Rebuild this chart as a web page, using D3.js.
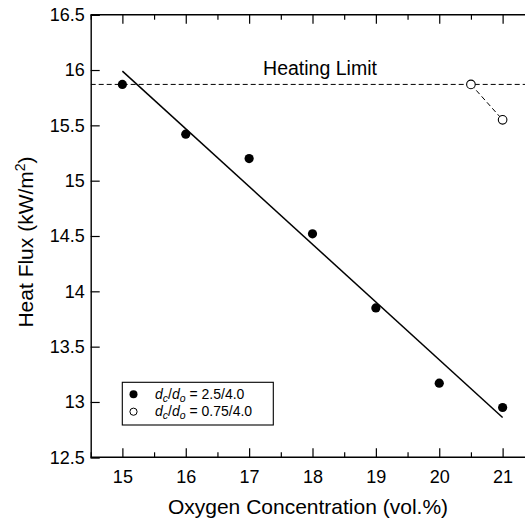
<!DOCTYPE html>
<html><head><meta charset="utf-8">
<script src="https://cdn.jsdelivr.net/npm/d3@7"></script>
<style>
html,body{margin:0;padding:0;background:#fff;}
svg{display:block;font-family:"Liberation Sans",Arial,sans-serif;}
</style></head>
<body>
<svg id="chart" width="525" height="523"></svg>
<script>
// Data
const oxygenFilled = [15, 16, 17, 18, 19, 20, 21];
const fluxFilled = [15.87, 15.42, 15.20, 14.52, 13.85, 13.17, 12.95];
const oxygenOpen = [20.5, 21];
const fluxOpen = [15.87, 15.55];
const fitX = [15, 21];
const fitY = [15.99, 12.86];
const heatingLimit = 15.87;
const xTicks = [15, 16, 17, 18, 19, 20, 21];
const yTicks = [12.5, 13, 13.5, 14, 14.5, 15, 15.5, 16, 16.5];
const yTickLabels = ["12.5", "13", "13.5", "14", "14.5", "15", "15.5", "16", "16.5"];

const svg = d3.select("#chart");
const W = 525, H = 523;
const L = 90.7, T = 14.7, B = 457.3;
const x = d3.scaleLinear().domain([14.5, 21.5]).range([L, 534.3]);
const y = d3.scaleLinear().domain([12.5, 16.5]).range([B, T]);

svg.append("defs").append("clipPath").attr("id", "clip")
  .append("rect").attr("x", L).attr("y", T).attr("width", W - L).attr("height", B - T);

const minorX = d3.range(14.5, 21.51, 0.5).filter(v => !xTicks.includes(v));

// Bottom axis
const gB = svg.append("g").attr("transform", `translate(0,${B})`);
gB.call(d3.axisBottom(x).tickValues(xTicks).tickSize(-9).tickPadding(13).tickFormat(d3.format("d")));
gB.append("g").call(d3.axisBottom(x).tickValues(minorX).tickSize(-5).tickFormat(""))
  .select(".domain").remove();
// Top axis
const gT = svg.append("g").attr("transform", `translate(0,${T})`);
gT.call(d3.axisTop(x).tickValues(xTicks).tickSize(-9).tickFormat(""));
gT.append("g").call(d3.axisTop(x).tickValues(minorX).tickSize(-5).tickFormat(""))
  .select(".domain").remove();
// Left axis
const gL = svg.append("g").attr("transform", `translate(${L},0)`);
gL.call(d3.axisLeft(y).tickValues(yTicks).tickSize(-9).tickPadding(6)
  .tickFormat((d, i) => yTickLabels[i]));

svg.selectAll(".domain").attr("stroke", "#000").attr("stroke-width", 1.4);
svg.selectAll(".tick line").attr("stroke", "#000").attr("stroke-width", 1.2);
svg.selectAll(".tick text").attr("fill", "#000").attr("font-size", 18)
  .attr("font-family", "'Liberation Sans', Arial, sans-serif");
gT.selectAll(".domain").attr("d", `M${L},0H${W}`);
gB.selectAll(".domain").attr("d", `M${L},0H${W}`);

const plot = svg.append("g").attr("clip-path", "url(#clip)");

// Heating limit
plot.append("line")
  .attr("x1", L).attr("x2", W)
  .attr("y1", y(heatingLimit)).attr("y2", y(heatingLimit))
  .attr("stroke", "#000").attr("stroke-width", 1).attr("stroke-dasharray", "5,3");
svg.append("text").attr("x", 320).attr("y", 75.3).attr("text-anchor", "middle")
  .attr("font-size", 19.5).text("Heating Limit");

// Fit line
plot.append("line")
  .attr("x1", x(fitX[0])).attr("y1", y(fitY[0]))
  .attr("x2", x(fitX[1])).attr("y2", y(fitY[1]))
  .attr("stroke", "#000").attr("stroke-width", 1.5);

// Open series connector
plot.append("path")
  .datum(oxygenOpen.map((o, i) => [o, fluxOpen[i]]))
  .attr("d", d3.line().x(d => x(d[0])).y(d => y(d[1])))
  .attr("fill", "none").attr("stroke", "#000").attr("stroke-width", 1).attr("stroke-dasharray", "5,3");

// Filled points
plot.selectAll(".pf").data(oxygenFilled).join("circle")
  .attr("cx", d => x(d)).attr("cy", (d, i) => y(fluxFilled[i])).attr("r", 4.6)
  .attr("fill", "#000");
// Open points
plot.selectAll(".po").data(oxygenOpen).join("circle")
  .attr("cx", d => x(d)).attr("cy", (d, i) => y(fluxOpen[i])).attr("r", 4.3)
  .attr("fill", "#fff").attr("stroke", "#000").attr("stroke-width", 1.1);

// Legend
const lg = svg.append("g");
lg.append("rect").attr("x", 122.3).attr("y", 382.3).attr("width", 151).attr("height", 42.7)
  .attr("fill", "#fff").attr("stroke", "#000").attr("stroke-width", 1.1);
lg.append("circle").attr("cx", 133.5).attr("cy", 394.3).attr("r", 4).attr("fill", "#000");
lg.append("circle").attr("cx", 133.5).attr("cy", 411.7).attr("r", 3.6).attr("fill", "#fff")
  .attr("stroke", "#000").attr("stroke-width", 1);
const legTexts = ["2.5/4.0", "0.75/4.0"];
legTexts.forEach((t, i) => {
  const tx = lg.append("text").attr("x", 155).attr("y", 398.8 + i * 17.4).attr("font-size", 14);
  tx.append("tspan").attr("font-style", "italic").text("d");
  tx.append("tspan").attr("font-style", "italic").attr("font-size", 10.5).attr("dy", 3).text("c");
  tx.append("tspan").attr("dy", -3).text("/");
  tx.append("tspan").attr("font-style", "italic").text("d");
  tx.append("tspan").attr("font-style", "italic").attr("font-size", 10.5).attr("dy", 3).text("o");
  tx.append("tspan").attr("dy", -3).text(" = " + t);
});

// Axis titles
svg.append("text").attr("x", 308).attr("y", 514).attr("text-anchor", "middle")
  .attr("font-size", 21).text("Oxygen Concentration (vol.%)");
const yt = svg.append("text").attr("transform", `translate(33,${(T + B) / 2 + 6}) rotate(-90)`)
  .attr("text-anchor", "middle").attr("font-size", 21);
yt.append("tspan").text("Heat Flux (kW/m");
yt.append("tspan").attr("font-size", 14).attr("dy", -8).text("2");
yt.append("tspan").attr("dy", 8).text(")");
</script>
</body></html>
